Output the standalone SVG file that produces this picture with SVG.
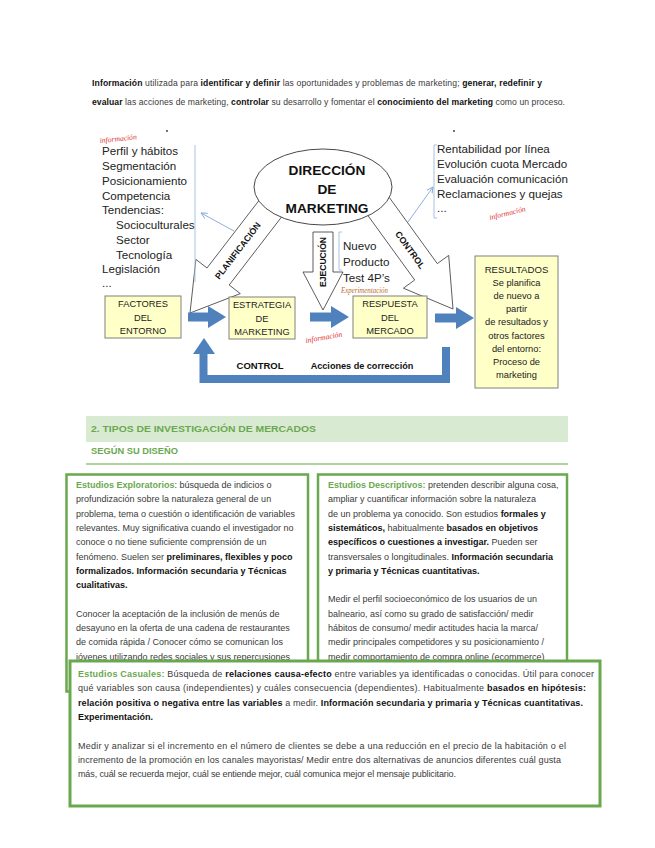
<svg xmlns="http://www.w3.org/2000/svg" width="655" height="848" viewBox="0 0 655 848">
<defs>
<style>
.p{font-family:"Liberation Sans",Arial,sans-serif;font-size:8.6px;fill:#3a3a3a}
.b{font-weight:bold;fill:#111}
.g{font-weight:bold;fill:#6aa84f}
.cal{font-family:"Liberation Sans",Arial,sans-serif;font-size:11.6px;fill:#222}
.bx{fill:#ffffc8;stroke:#808080;stroke-width:1}
.bxt{font-family:"Liberation Sans",Arial,sans-serif;font-size:9.3px;fill:#222;text-anchor:middle}
.out{fill:#fff;stroke:#333;stroke-width:0.8;stroke-linejoin:miter}
.blue{fill:#4f81bd}
.thin{stroke:#8eb0dd;stroke-width:1;fill:none}
.red{font-family:"Liberation Serif",serif;font-style:italic;font-size:7.6px;fill:#e03232}
.box{fill:#fff;stroke:#6aa84f;stroke-width:2.5}
.body{font-family:"Liberation Sans",Arial,sans-serif;font-size:9px;fill:#3a3a3a}
.b3{font-family:"Liberation Sans",Arial,sans-serif;font-size:9px;fill:#3a3a3a}
.lab{font-family:"Liberation Sans",Arial,sans-serif;font-weight:bold;fill:#111;text-anchor:middle}
.hd{font-family:"Liberation Sans",Arial,sans-serif;font-size:9.8px;font-weight:bold;fill:#6aa84f}
</style>
<marker id="tb" viewBox="0 0 8 8" refX="7" refY="4" markerWidth="7" markerHeight="7" orient="auto" markerUnits="userSpaceOnUse">
<path d="M0,0.5 L7,4 L0,7.5" fill="none" stroke="#7fa6d6" stroke-width="1"/>
</marker>
</defs>
<rect width="655" height="848" fill="#fff"/>

<g id="intro">
<text class="p" x="92" y="86" textLength="450" lengthAdjust="spacing"><tspan class="b">Información</tspan> utilizada para <tspan class="b">identificar y definir</tspan> las oportunidades y problemas de marketing; <tspan class="b">generar, redefinir y</tspan></text>
<text class="p" x="92" y="105" textLength="473" lengthAdjust="spacing"><tspan class="b">evaluar</tspan> las acciones de marketing, <tspan class="b">controlar</tspan> su desarrollo y fomentar el <tspan class="b">conocimiento del marketing</tspan> como un proceso.</text>
</g>

<g id="connectors">
<path class="out" d="M273.5,181.6 L207,268 L195.9,259.4 L190,313 L240.3,293.6 L229.2,285 L295.7,198.6 Z"/>
<path class="out" d="M350.7,191.8 L414.7,280 L403.4,288.2 L453,309 L448.7,255.4 L437.3,263.6 L373.3,175.4 Z"/>
<path class="out" d="M313,232 V272 H303 L323,310 L343,272 H333 V232 Z"/>
<path class="blue" d="M188,312.5 H208 V306 L226,317 L208,328 V321.5 H188 Z"/>
<path class="blue" d="M310,312.5 H331 V306 L349,317 L331,328 V321.5 H310 Z"/>
<path class="blue" d="M435,313.5 H456 V307 L474,318 L456,329 V322.5 H435 Z"/>
<path d="M446,347 V379 H203.5 V353" fill="none" stroke="#4f81bd" stroke-width="8"/>
<path class="blue" d="M193,354 L204,338 L215,354 Z"/>
<line class="thin" x1="234" y1="231" x2="201" y2="213" marker-end="url(#tb)"/>
<line class="thin" x1="408" y1="222" x2="433" y2="187" marker-end="url(#tb)"/>
<path d="M195,145 V282" fill="none" stroke="#a8c2e6" stroke-width="1"/>
<path d="M437,145 H434 V218 H437" fill="none" stroke="#a8c2e6" stroke-width="1"/>
<path d="M342,232 H339 V270 H342" fill="none" stroke="#a8c2e6" stroke-width="1"/>
<text class="lab" font-size="8.8" transform="translate(237.8,250.8) rotate(-52.4)" dy="3">PLANIFICACIÓN</text>
<text class="lab" font-size="8.6" transform="translate(323,262) rotate(-90)" dy="3">EJECUCIÓN</text>
<text class="lab" font-size="8.9" transform="translate(410,250) rotate(54)" dy="3">CONTROL</text>
<text class="lab" font-size="9.5" x="260" y="369">CONTROL</text>
<text class="lab" font-size="9.1" x="362" y="369">Acciones de corrección</text>
</g>

<g id="direccion">
<ellipse cx="323" cy="187" rx="69" ry="38" fill="#fff" stroke="#333" stroke-width="0.9"/>
<text class="lab" font-size="13.7" x="327" y="175">DIRECCIÓN</text>
<text class="lab" font-size="13.7" x="327" y="194">DE</text>
<text class="lab" font-size="13.7" x="327" y="213">MARKETING</text>
</g>

<g id="info-entorno">
<circle cx="167" cy="131" r="0.9" fill="#333"/>
<text class="red" x="100" y="143" transform="rotate(-6 100 143)">información</text>
<text class="cal" x="102" y="155">Perfil y hábitos</text>
<text class="cal" x="102" y="170">Segmentación</text>
<text class="cal" x="102" y="185">Posicionamiento</text>
<text class="cal" x="102" y="200">Competencia</text>
<text class="cal" x="102" y="214">Tendencias:</text>
<text class="cal" x="116" y="229">Socioculturales</text>
<text class="cal" x="116" y="244">Sector</text>
<text class="cal" x="116" y="259">Tecnología</text>
<text class="cal" x="102" y="273">Legislación</text>
<text class="cal" x="102" y="287">...</text>
</g>

<g id="info-control">
<circle cx="454" cy="131" r="0.9" fill="#333"/>
<text class="cal" x="437" y="153">Rentabilidad por línea</text>
<text class="cal" x="437" y="168">Evolución cuota Mercado</text>
<text class="cal" x="437" y="183">Evaluación comunicación</text>
<text class="cal" x="437" y="198">Reclamaciones y quejas</text>
<text class="cal" x="437" y="212">...</text>
<text class="red" x="490" y="220" transform="rotate(-14 490 220)">información</text>
</g>

<g id="ejecucion-notas">
<text class="cal" x="343" y="250" font-size="11.3">Nuevo</text>
<text class="cal" x="343" y="266" font-size="11.3">Producto</text>
<text class="cal" x="343" y="282" font-size="11.3">Test 4P’s</text>
<text x="341" y="293" font-family="Liberation Serif,serif" font-style="italic" font-size="8.5" fill="#c26b2b" textLength="47" lengthAdjust="spacingAndGlyphs">Experimentación</text>
<text class="red" x="306" y="343" transform="rotate(-10 306 343)">información</text>
</g>

<g id="factores">
<rect class="bx" x="105" y="296" width="76" height="42"/>
<text class="bxt" x="143" y="307">FACTORES</text>
<text class="bxt" x="143" y="320.5">DEL</text>
<text class="bxt" x="143" y="334">ENTORNO</text>
</g>
<g id="estrategia">
<rect class="bx" x="229" y="297" width="66" height="42"/>
<text class="bxt" x="262" y="308">ESTRATEGIA</text>
<text class="bxt" x="262" y="321.5">DE</text>
<text class="bxt" x="262" y="335">MARKETING</text>
</g>
<g id="respuesta">
<rect class="bx" x="353" y="296" width="74" height="42"/>
<text class="bxt" x="390" y="307">RESPUESTA</text>
<text class="bxt" x="390" y="320.5">DEL</text>
<text class="bxt" x="390" y="334">MERCADO</text>
</g>
<g id="resultados">
<rect class="bx" x="475" y="256" width="83" height="132"/>
<g class="bxt" font-size="10.5">
<text x="516.5" y="273" font-size="9.6">RESULTADOS</text>
<text x="516.5" y="286">Se planifica</text>
<text x="516.5" y="299">de nuevo a</text>
<text x="516.5" y="312">partir</text>
<text x="516.5" y="325">de resultados y</text>
<text x="516.5" y="338.5">otros factores</text>
<text x="516.5" y="351.5">del entorno:</text>
<text x="516.5" y="364.5">Proceso de</text>
<text x="516.5" y="378">marketing</text>
</g>
</g>

<g id="seccion">
<rect x="86" y="416" width="482" height="26" fill="#d9ead3"/>
<text class="hd" x="91" y="432" textLength="225" lengthAdjust="spacingAndGlyphs">2. TIPOS DE INVESTIGACIÓN DE MERCADOS</text>
<text class="hd" x="91" y="454" textLength="87" lengthAdjust="spacingAndGlyphs" fill="#4e8a3a">SEGÚN SU DISEÑO</text>
<line x1="86" y1="464" x2="568" y2="464" stroke="#93c47d" stroke-width="1.5"/>
</g>

<g id="exploratorios">
<rect class="box" x="66.5" y="474.5" width="241.5" height="217"/>
<g class="body">
<text x="76" y="488"><tspan class="g">Estudios Exploratorios</tspan>: búsqueda de indicios o</text>
<text x="76" y="502.3">profundización sobre la naturaleza general de un</text>
<text x="76" y="516.6">problema, tema o cuestión o identificación de variables</text>
<text x="76" y="530.9">relevantes. Muy significativa cuando el investigador no</text>
<text x="76" y="545.2">conoce o no tiene suficiente comprensión de un</text>
<text x="76" y="559.5">fenómeno. Suelen ser <tspan class="b">preliminares, flexibles y poco</tspan></text>
<text x="76" y="573.8"><tspan class="b">formalizados. Información secundaria y Técnicas</tspan></text>
<text x="76" y="588.1"><tspan class="b">cualitativas.</tspan></text>
<text x="76" y="616.7">Conocer la aceptación de la inclusión de menús de</text>
<text x="76" y="631">desayuno en la oferta de una cadena de restaurantes</text>
<text x="76" y="645.3">de comida rápida / Conocer cómo se comunican los</text>
<text x="76" y="659.6">jóvenes utilizando redes sociales y sus repercusiones</text>
</g>
</g>

<g id="descriptivos">
<rect class="box" x="318" y="474.5" width="249" height="188"/>
<g class="body">
<text x="328" y="488"><tspan class="g">Estudios Descriptivos:</tspan> pretenden describir alguna cosa,</text>
<text x="328" y="502.3">ampliar y cuantificar información sobre la naturaleza</text>
<text x="328" y="516.6">de un problema ya conocido. Son estudios <tspan class="b">formales y</tspan></text>
<text x="328" y="530.9"><tspan class="b">sistemáticos,</tspan> habitualmente <tspan class="b">basados en objetivos</tspan></text>
<text x="328" y="545.2"><tspan class="b">específicos o cuestiones a investigar.</tspan> Pueden ser</text>
<text x="328" y="559.5">transversales o longitudinales. <tspan class="b">Información secundaria</tspan></text>
<text x="328" y="573.8"><tspan class="b">y primaria y Técnicas cuantitativas.</tspan></text>
<text x="328" y="602.4">Medir el perfil socioeconómico de los usuarios de un</text>
<text x="328" y="616.7">balneario, así como su grado de satisfacción/ medir</text>
<text x="328" y="631">hábitos de consumo/ medir actitudes hacia la marca/</text>
<text x="328" y="645.3">medir principales competidores y su posicionamiento /</text>
<text x="328" y="659.6">medir comportamiento de compra online (ecommerce)</text>
</g>
</g>

<g id="casuales">
<rect x="70" y="661" width="530" height="145" fill="#fff" stroke="#6aa84f" stroke-width="3"/>
<g class="b3">
<text x="78" y="677" textLength="516" lengthAdjust="spacing"><tspan class="g">Estudios Casuales:</tspan> Búsqueda de <tspan class="b">relaciones causa-efecto</tspan> entre variables ya identificadas o conocidas. Útil para conocer</text>
<text x="78" y="691.3" textLength="508" lengthAdjust="spacing">qué variables son causa (independientes) y cuáles consecuencia (dependientes). Habitualmente <tspan class="b">basados en hipótesis:</tspan></text>
<text x="78" y="705.6" textLength="505" lengthAdjust="spacing"><tspan class="b">relación positiva o negativa entre las variables</tspan> a medir. <tspan class="b">Información secundaria y primaria y Técnicas cuantitativas.</tspan></text>
<text x="78" y="720"><tspan class="b">Experimentación.</tspan></text>
<text x="78" y="748.5" textLength="488" lengthAdjust="spacing">Medir y analizar si el incremento en el número de clientes se debe a una reducción en el precio de la habitación o el</text>
<text x="78" y="763" textLength="483" lengthAdjust="spacing">incremento de la promoción en los canales mayoristas/ Medir entre dos alternativas de anuncios diferentes cuál gusta</text>
<text x="78" y="777.3" textLength="378" lengthAdjust="spacing">más, cuál se recuerda mejor, cuál se entiende mejor, cuál comunica mejor el mensaje publicitario.</text>
</g>
</g>
</svg>
